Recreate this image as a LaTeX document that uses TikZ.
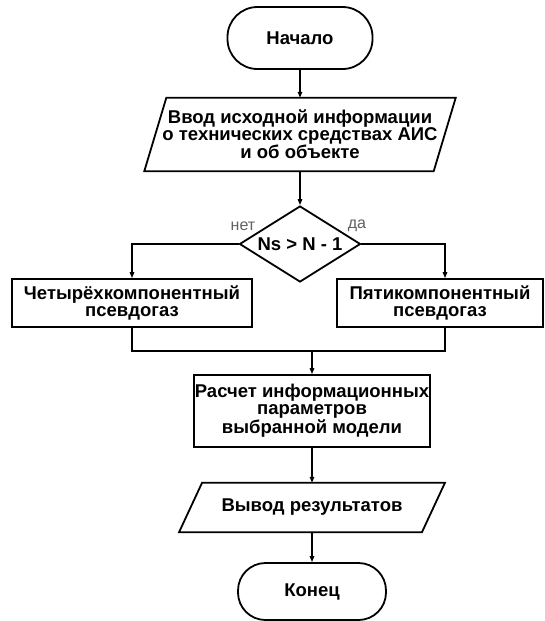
\documentclass[tikz,border=0pt]{standalone}
\usepackage{fontspec}
\setmainfont{Liberation Sans}
\usetikzlibrary{shapes.geometric,arrows.meta,calc}

\begin{document}
\begin{tikzpicture}[x=1pt,y=-1pt,
  txt/.style={font=\bfseries\fontsize{18.5}{17}\selectfont, align=center, inner sep=0pt},
  outline/.style={draw=black, line width=1.8pt, line join=miter},
  stepbox/.style={txt, outline, rectangle, minimum height=48pt},
  term/.style={txt, outline, rectangle},
  iobox/.style={txt, rectangle},
  decision/.style={txt, outline, diamond, aspect=1.59, minimum width=121pt, minimum height=76pt},
  conn/.style={draw=black, line width=1.3pt, -{Triangle[length=6pt,width=4.5pt]}},
  link/.style={draw=black, line width=1.3pt},
  lbl/.style={font=\fontsize{16}{16}\selectfont, text=black!62, inner sep=0pt}]

\useasboundingbox (0,0) rectangle (544,621);
\fill[white] (0,0) rectangle (544,621);

% start / end terminals
\node[term, minimum width=145pt, minimum height=62pt, rounded corners=30pt] (start) at (300,38) {Начало};
\node[term, minimum width=148pt, minimum height=57pt, rounded corners=27.5pt] (finish) at (312,591.5) {Конец};

% input data (parallelogram drawn around a plain node)
\node[iobox, minimum width=289pt, minimum height=73pt] (input) at (300,134.5)
  {Ввод исходной информации\\о технических средствах АИС\\и об объекте};
\draw[outline] ($(input.south west)+(-11,0)$) -- ($(input.north west)+(11,0)$)
  -- ($(input.north east)+(11,0)$) -- ($(input.south east)+(-11,0)$) -- cycle;

% condition
\node[decision] (cond) at (300,244) {Ns > N - 1};
\node[lbl] (no) at (243,226) {нет};
\node[lbl] (yes) at (357,226) {да};

% the two model branches
\node[stepbox, minimum width=240pt] (four) at (132,303) {Четырёхкомпонентный\\псевдогаз};
\node[stepbox, minimum width=206pt] (five) at (440,303) {Пятикомпонентный\\псевдогаз};

% computation
\node[stepbox, minimum width=236pt, minimum height=72pt] (calc) at (312,411)
  {Расчет информационных\\параметров\\выбранной модели};

% output (parallelogram drawn around a plain node)
\node[iobox, minimum width=242.5pt, minimum height=49pt] (output) at (312,507.5) {Вывод результатов};
\draw[outline] ($(output.south west)+(-11.5,0)$) -- ($(output.north west)+(11.5,0)$)
  -- ($(output.north east)+(11.5,0)$) -- ($(output.south east)+(-11.5,0)$) -- cycle;

% connectors
\coordinate (merge) at (312,351);
\draw[conn] (start.south) -- (input.north);
\draw[conn] (input.south) -- (cond.north);
\draw[conn] (cond.west) -| (four.north);
\draw[conn] (cond.east) -| ([xshift=5pt]five.north);
\draw[link] (four.south) |- (merge) -| ([xshift=5pt]five.south);
\draw[conn] (merge) -- (calc.north);
\draw[conn] (calc.south) -- (output.north);
\draw[conn] (output.south) -- (finish.north);
\end{tikzpicture}
\end{document}
